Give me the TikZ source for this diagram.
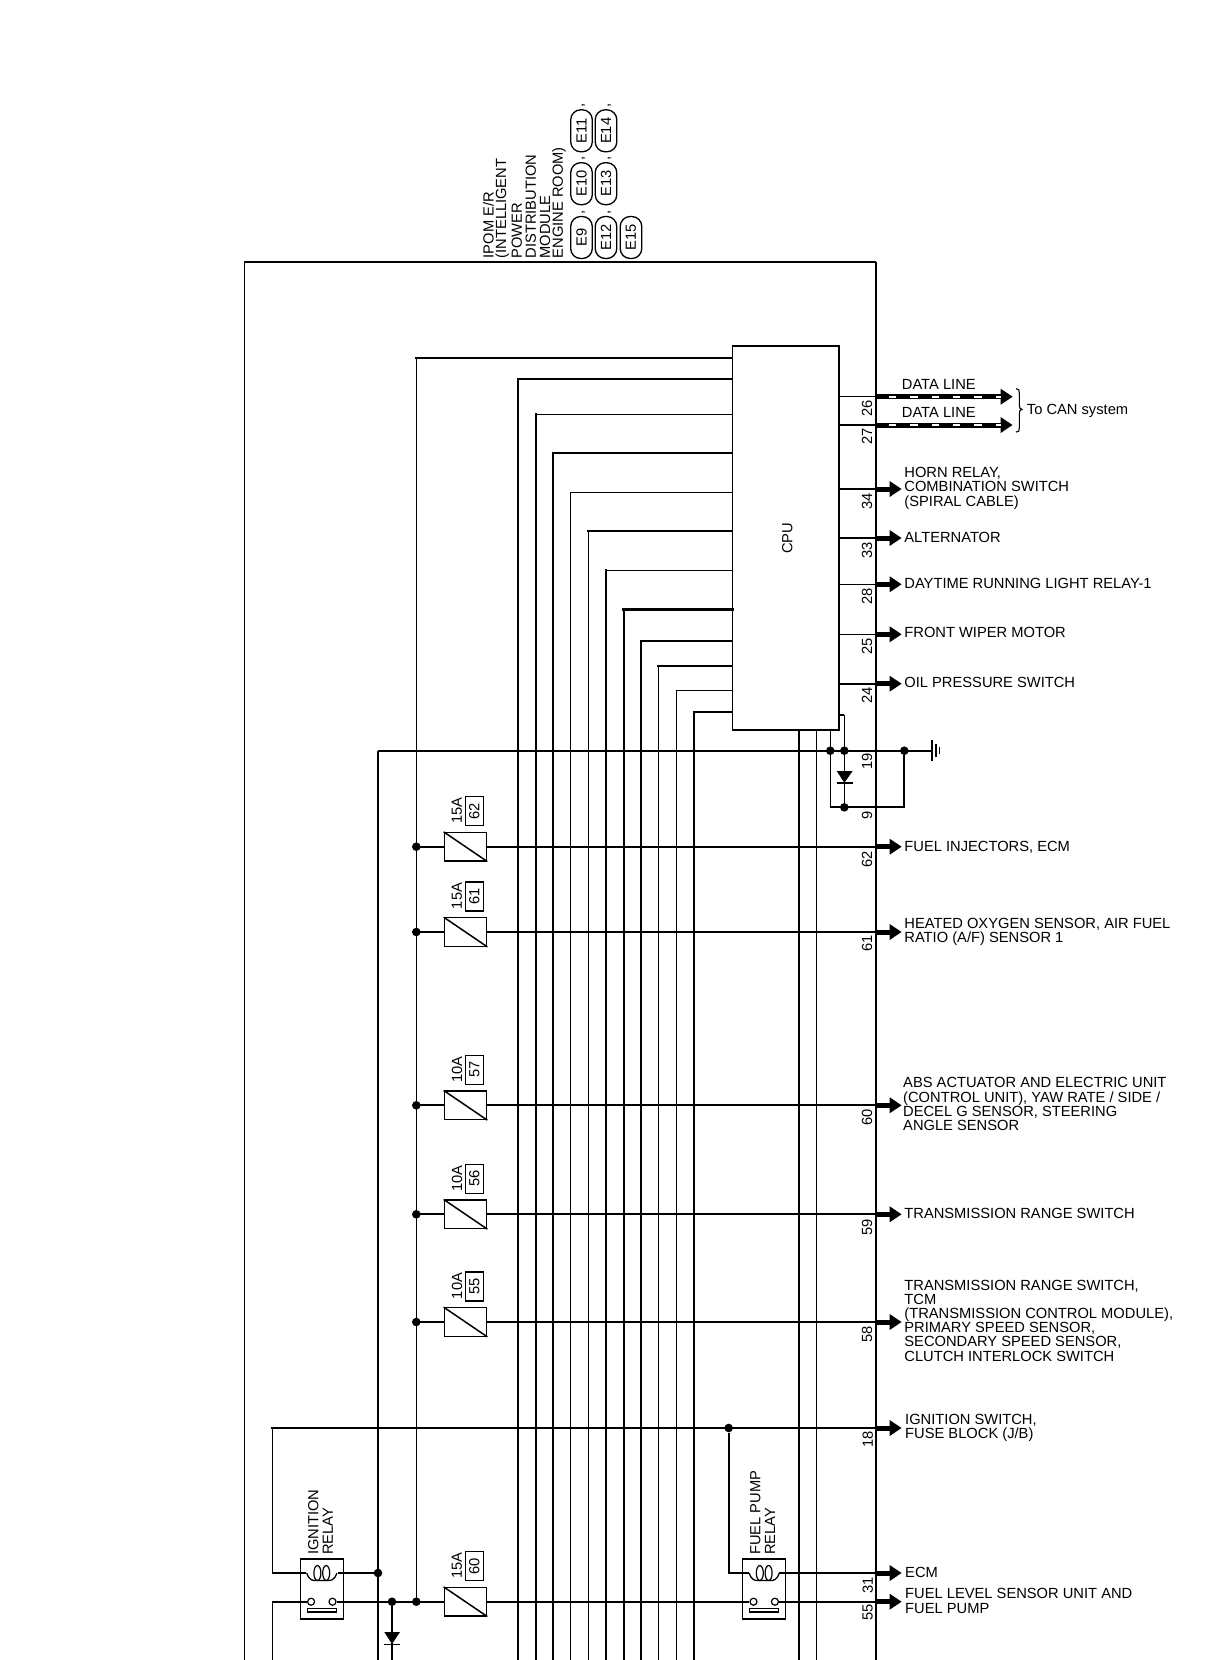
\documentclass[tikz,border=0pt]{standalone}
\usepackage{fontspec}
\setmainfont{Liberation Sans}
\usetikzlibrary{arrows.meta}
\newcommand{\lblfont}{\fontsize{14.7}{14.2}\selectfont}
\tikzset{
  wthin/.style={line width=1pt},
  wthick/.style={line width=2pt},
  lbl/.style={font=\lblfont,inner sep=0pt,align=left,anchor=west},
  vlbl/.style={font=\lblfont,inner sep=0pt,rotate=90},
  vstart/.style={font=\lblfont,inner sep=0pt,rotate=90,anchor=west},
  stub/.style={line width=5pt,-{Triangle[length=12pt,width=15pt]}},
  dot/.style={circle,fill=black,inner sep=0pt,minimum size=8.6pt},
  capsule/.style={draw,line width=1.3pt,rounded corners=10pt,rotate=90,minimum width=42pt,minimum height=21.6pt,inner sep=0pt,font=\lblfont,fill=white},
  fusebox/.style={draw,line width=1.2pt,minimum width=42.5pt,minimum height=28.5pt,inner sep=0pt,fill=white},
  fusetag/.style={draw,line width=1.4pt,minimum width=29pt,minimum height=18pt,inner sep=0pt,font=\lblfont},
  relaybox/.style={draw,line width=1.2pt,minimum width=43pt,minimum height=60pt,inner sep=0pt,fill=white},
}
% fuse symbol: id, line y, amperes, tag
\newcommand{\fusesym}[4]{%
  \coordinate (d#1) at (416.3,#2);
  \node[fusebox] (f#1) at (465.5,#2) {};
  \draw[line width=1.5pt] (f#1.north west) -- (f#1.south east);
  \node[vlbl] (fa#1) at (457,#2-36) {#3};
  \node[fusetag,rotate=90] (ft#1) at (474.3,#2-35.5) {#4};
}
% relay symbol: id, centre x
\newcommand{\relaysym}[2]{%
  \node[relaybox] (r#1) at (#2,1589) {};
  \draw[line width=1.2pt] (#2-4.4,1573) ellipse (3.5pt and 7.5pt);
  \draw[line width=1.2pt] (#2+4.4,1573) ellipse (3.5pt and 7.5pt);
  \draw[line width=1.3pt] (#2-15,1573) .. controls (#2-13,1580) and (#2-9,1581) .. (#2-5,1580.5) -- (#2+5,1580.5) .. controls (#2+9,1581) and (#2+13,1580) .. (#2+15,1573);
  \node[draw,circle,line width=1.2pt,inner sep=0pt,minimum size=7pt,fill=white] (rc#1a) at (#2-10.7,1601.7) {};
  \node[draw,circle,line width=1.2pt,inner sep=0pt,minimum size=7pt,fill=white] (rc#1b) at (#2+10.7,1601.7) {};
  \draw[line width=1.1pt] (#2-14.5,1608.7) rectangle (#2+14.5,1612);
}
\begin{document}
\begin{tikzpicture}[x=1pt,y=-1pt]
\useasboundingbox (0,0) rectangle (1216,1660);
% module outline
\coordinate (bl) at (244.3,1660);
\coordinate (tl) at (244.3,262);
\coordinate (tr) at (876,262);
\coordinate (br) at (876,1660);
\coordinate (tipx) at (901.7,0);
\draw[wthin] (bl) -- (tl);
\draw[line width=1.4pt] (tl) -- (tr);
\draw[line width=1.8pt] (tr) -- (br);
% top labels
\node[vstart] (t1) at (488.3,258.5) {IPOM E/R};
\node[vstart] (t2) at (502.3,258.5) {(INTELLIGENT};
\node[vstart] (t3) at (516.7,258.5) {POWER};
\node[vstart] (t4) at (530.7,258.5) {DISTRIBUTION};
\node[vstart] (t5) at (545,258.5) {MODULE};
\node[vstart] (t6) at (559,258.5) {ENGINE ROOM)};
\node[capsule] (e9) at (581.5,237.5) {E9};
\node[capsule] (e12) at (606,237.5) {E12};
\node[capsule] (e15) at (631,237.5) {E15};
\node[capsule] (e10) at (581.5,183.7) {E10};
\node[capsule] (e13) at (606,183.7) {E13};
\node[capsule] (e11) at (581.5,130.8) {E11};
\node[capsule] (e14) at (606,130.8) {E14};
\node[vlbl] (c1) at (583.5,212) {,};
\node[vlbl] (c2) at (609.5,212) {,};
\node[vlbl] (c3) at (583.5,158) {,};
\node[vlbl] (c4) at (609.5,158) {,};
\node[vlbl] (c5) at (583.5,105) {,};
\node[vlbl] (c6) at (609.5,105) {,};
% CPU
\node[draw,wthin,minimum width=105.3pt,minimum height=383pt,inner sep=0pt,fill=white] (cpu) at (785.4,538.2) {};
\node[vlbl] (cput) at (787.3,538.3) {CPU};
\draw[wthick] (cpu.north west) -- (cpu.north east) -- (cpu.south east) -- (cpu.south west);
% bus lines
\coordinate (b1) at (416.3,358);
\coordinate (b2) at (518,379);
\coordinate (b3) at (536,414.3);
\coordinate (b4) at (553,453);
\coordinate (b5) at (570.3,492.3);
\coordinate (b6) at (588.3,531);
\coordinate (b7) at (606,570.3);
\coordinate (b8) at (623.7,609.3);
\coordinate (b9) at (640.7,641);
\coordinate (b10) at (658.3,665.7);
\coordinate (b11) at (676.3,690.3);
\coordinate (b12) at (694,711.7);
\coordinate (busend) at (416.3,1601.7);
\tikzset{bh/.style={line cap=rect}}
\draw[wthin,bh] (b1) -- (busend);
\draw[wthick,bh] (b1) -- (b1 -| cpu.west);
\draw[wthick,bh] (b2) -- (b2 |- bl);
\draw[wthick,bh] (b2) -- (b2 -| cpu.west);
\draw[wthick,bh] (b3) -- (b3 |- bl);
\draw[wthin,bh] (b3) -- (b3 -| cpu.west);
\draw[wthick,bh] (b4) -- (b4 |- bl);
\draw[wthick,bh] (b4) -- (b4 -| cpu.west);
\draw[wthin,bh] (b5) -- (b5 |- bl);
\draw[wthin,bh] (b5) -- (b5 -| cpu.west);
\draw[wthin,bh] (b6) -- (b6 |- bl);
\draw[wthick,bh] (b6) -- (b6 -| cpu.west);
\draw[wthick,bh] (b7) -- (b7 |- bl);
\draw[wthin,bh] (b7) -- (b7 -| cpu.west);
\draw[wthick,bh] (b8) -- (b8 |- bl);
\draw[line width=2.6pt,bh] (b8) -- (b8 -| cpu.west);
\draw[wthick,bh] (b9) -- (b9 |- bl);
\draw[wthick,bh] (b9) -- (b9 -| cpu.west);
\draw[wthin,bh] (b10) -- (b10 |- bl);
\draw[wthick,bh] (b10) -- (b10 -| cpu.west);
\draw[wthin,bh] (b11) -- (b11 |- bl);
\draw[wthin,bh] (b11) -- (b11 -| cpu.west);
\draw[wthick,bh] (b12) -- (b12 |- bl);
\draw[wthick,bh] (b12) -- (b12 -| cpu.west);
% verticals below the CPU
\coordinate (v1) at (799,729.7);
\coordinate (v2) at (816.3,729.7);
\coordinate (v3) at (830.3,729.7);
\draw[wthick] (v1) -- (v1 |- bl);
\draw[wthin] (v2) -- (v2 |- bl);
% ground net
\coordinate (gl) at (378,750.7);
\coordinate (gbar) at (931.7,750.7);
\draw[wthick] (gl) -- (gbar);
\draw[wthick] (gl) -- (gl |- bl);
\node[dot] (g1) at (830.3,750.7) {};
\node[dot] (g2) at (844.3,750.7) {};
\node[dot] (g3) at (904.3,750.7) {};
\node[dot] (g4) at (844.3,807.3) {};
\coordinate (s1) at (838,714.7);
\coordinate (s2) at (844.3,714.7);
\coordinate (g5) at (830.3,807.3);
\coordinate (g6) at (904.3,807.3);
\draw[wthick] (s1) -- (s2);
\draw[wthin] (s2) -- (g4);
\draw[wthin] (v3) -- (g5);
\draw[wthick] (g5) -- (g6) -- (g3);
\path[fill=black] (836.7,771) -- (852.7,771) -- (844.3,782.7) -- cycle;
\draw[wthick] (836.7,783) -- (852.7,783);
\draw[line width=1.6pt] (931.7,740) -- (931.7,761);
\draw[line width=1.6pt] (935.7,744) -- (935.7,757);
\draw[line width=1.6pt] (939.3,747) -- (939.3,754);
% right pins
\coordinate (p26) at (838,396.7);
\coordinate (p27) at (838,425);
\draw[wthin] (p26) -- (p26 -| tr);
\draw[wthick] (p27) -- (p27 -| tr);
\coordinate (a26) at (1012.7,396.7);
\coordinate (a27) at (1012.7,425);
\draw[stub] (p26 -| tr) -- (a26);
\draw[stub] (p27 -| tr) -- (a27);
\draw[white,line width=2.2pt,dash pattern=on 7.3pt off 14pt] (889,396.7) -- (1001,396.7);
\draw[white,line width=2.2pt,dash pattern=on 7.3pt off 14pt] (889,425) -- (1001,425);
\node[lbl] (ld1) at (901.7,384.7) {DATA LINE};
\node[lbl] (ld2) at (901.7,412.7) {DATA LINE};
\draw[line width=1.1pt] (1016,388.7) .. controls (1019,389) and (1019.3,390) .. (1019.3,393) -- (1019.3,405) .. controls (1019.3,408) and (1020,409.3) .. (1022,409.3) .. controls (1020,409.3) and (1019.3,411) .. (1019.3,414) -- (1019.3,428) .. controls (1019.3,431) and (1019,432) .. (1016,432);
\node[lbl] (lcan) at (1026.7,410.5) {To CAN system};
\node[vlbl] (n26) at (867,408) {26};
\node[vlbl] (n27) at (867,436.7) {27};
% pins with arrows
\foreach \id/\py/\w/\ly/\txt in {
  34/489/wthick/488.2/{HORN RELAY,\\COMBINATION SWITCH\\(SPIRAL CABLE)},
  33/538/wthick/537/{ALTERNATOR},
  28/584.3/wthin/583.5/{DAYTIME RUNNING LIGHT RELAY-1},
  25/634.3/wthin/632.7/{FRONT WIPER MOTOR},
  24/683.7/wthick/682/{OIL PRESSURE SWITCH}} {
  \coordinate (p\id) at (838,\py);
  \coordinate (a\id) at (901.7,\py);
  \draw[\w] (p\id) -- (p\id -| tr);
  \draw[stub] (p\id -| tr) -- (a\id);
  \node[lbl] (l\id) at (904.2,\ly) {\txt};
}
\node[vlbl] (n34) at (867,501) {34};
\node[vlbl] (n33) at (867,550) {33};
\node[vlbl] (n28) at (867,596) {28};
\node[vlbl] (n25) at (867,646) {25};
\node[vlbl] (n24) at (867,695.7) {24};
\node[vlbl] (n19) at (867,761.7) {19};
\node[vlbl] (n9) at (867,815) {9};
% fused outputs
\fusesym{62}{846.7}{15A}{62}
\fusesym{61}{932}{15A}{61}
\fusesym{57}{1105.3}{10A}{57}
\fusesym{56}{1214.3}{10A}{56}
\fusesym{55}{1322}{10A}{55}
\fusesym{60}{1601.7}{15A}{60}
\foreach \id/\pin/\ly/\lx/\txt in {
  62/62/846.8/904.2/{FUEL INJECTORS, ECM},
  61/61/931.5/904.2/{HEATED OXYGEN SENSOR, AIR FUEL\\RATIO (A/F) SENSOR 1},
  57/60/1104.2/903/{ABS ACTUATOR AND ELECTRIC UNIT\\(CONTROL UNIT), YAW RATE / SIDE /\\DECEL G SENSOR, STEERING\\ANGLE SENSOR},
  56/59/1213.3/904.2/{TRANSMISSION RANGE SWITCH},
  55/58/1320.5/904.2/{TRANSMISSION RANGE SWITCH,\\TCM\\(TRANSMISSION CONTROL MODULE),\\PRIMARY SPEED SENSOR,\\SECONDARY SPEED SENSOR,\\CLUTCH INTERLOCK SWITCH}} {
  \node[dot] (dd\id) at (d\id) {};
  \draw[wthick] (d\id) -- (f\id.west);
  \draw[wthick] (f\id.east) -- (f\id.east -| tr);
  \coordinate (a\pin) at (tipx |- f\id.east);
  \draw[stub] (f\id.east -| tr) -- (a\pin);
  \node[lbl] (l\pin) at (\lx,\ly) {\txt};
}
\node[vlbl] (n62) at (867,859) {62};
\node[vlbl] (n61) at (867,943) {61};
\node[vlbl] (n60) at (867,1117) {60};
\node[vlbl] (n59) at (867,1227.7) {59};
\node[vlbl] (n58) at (867,1334) {58};
% relays
\relaysym{i}{321.8}
\relaysym{f}{764.2}
\node[vstart] (ri1) at (313.3,1555) {IGNITION};
\node[vstart] (ri2) at (327.7,1555) {RELAY};
\node[vstart] (rf1) at (755.3,1555) {FUEL PUMP};
\node[vstart] (rf2) at (770,1555) {RELAY};
% line 18
\coordinate (k0) at (272.3,1428);
\coordinate (k1) at (272.3,1573);
\coordinate (a18) at (901.7,1428);
\draw[wthick,line cap=rect] (k0) -- (k0 -| tr);
\draw[wthin] (k0) -- (k1);
\draw[wthick] (k1) -- (306,1573);
\draw[stub] (k0 -| tr) -- (a18);
\node[lbl] (l18) at (905,1428) {IGNITION SWITCH,\\FUSE BLOCK (J/B)};
\node[vlbl] (n18) at (867.7,1439) {18};
\node[dot] (kd) at (728.7,1428) {};
\coordinate (k2) at (728.7,1573);
\draw[wthick] (kd) -- (k2) -- (749,1573);
% ignition relay outputs
\node[dot] (kd2) at (378,1573) {};
\draw[wthick] (338,1573) -- (kd2);
\coordinate (k3) at (272.3,1601.7);
\draw[wthin] (k3) -- (k3 |- bl);
\draw[wthick] (k3) -- (rcia);
\node[dot] (kd3) at (392,1601.7) {};
\node[dot] (kd4) at (416.3,1601.7) {};
\draw[wthick] (rcib) -- (f60.west);
\draw[wthick] (kd3) -- (kd3 |- bl);
\path[fill=black] (384.3,1632) -- (400,1632) -- (392,1644) -- cycle;
\draw[wthin] (384.3,1644.3) -- (400,1644.3);
% fuel pump relay outputs
\draw[wthick] (f60.east) -- (rcfa);
\coordinate (a31) at (901.7,1573);
\coordinate (a55) at (901.7,1601.7);
\draw[wthick] (779,1573) -- (876,1573);
\draw[stub] (876,1573) -- (a31);
\draw[wthick] (rcfb) -- (876,1601.7);
\draw[stub] (876,1601.7) -- (a55);
\node[lbl] (l31) at (905,1572.7) {ECM};
\node[lbl] (l55) at (905,1601) {FUEL LEVEL SENSOR UNIT AND\\FUEL PUMP};
\node[vlbl] (n31) at (867.7,1585.7) {31};
\node[vlbl] (n55) at (867.7,1612.7) {55};
\end{tikzpicture}
\end{document}
